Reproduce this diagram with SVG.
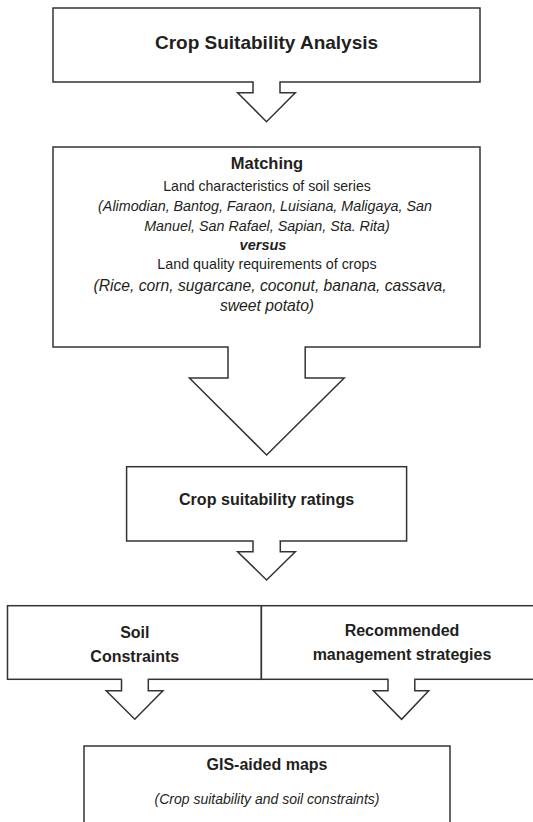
<svg xmlns="http://www.w3.org/2000/svg" width="533" height="822" viewBox="0 0 533 822">
<style>
.box{fill:#fff;stroke:#333;stroke-width:1.5}
.arr{fill:#fff;stroke:#333;stroke-width:1.5;stroke-linejoin:miter}
.gap{fill:#fff;stroke:none}
text{font-family:"Liberation Sans",Arial,sans-serif;fill:#231f20;text-anchor:middle}
.b{font-weight:bold}
.i{font-style:italic}
</style>
<rect width="533" height="822" fill="#fff"/>
<g id="node-analysis">
<rect class="box" x="53" y="8" width="427" height="74"/>
<text class="b" x="266.5" y="49" font-size="19">Crop Suitability Analysis</text>
</g>
<g id="node-matching">
<rect class="box" x="53" y="147" width="427" height="200"/>
<text class="b" x="267" y="169" font-size="16.5">Matching</text>
<text x="267" y="191" font-size="14.1">Land characteristics of soil series</text>
<text class="i" x="265" y="211" font-size="14.3">(Alimodian, Bantog, Faraon, Luisiana, Maligaya, San</text>
<text class="i" x="267" y="231" font-size="14.3">Manuel, San Rafael, Sapian, Sta. Rita)</text>
<text class="b i" x="263" y="250" font-size="14.5">versus</text>
<text x="267" y="269" font-size="14.3">Land quality requirements of crops</text>
<text class="i" x="270" y="290.5" font-size="15.7">(Rice, corn, sugarcane, coconut, banana, cassava,</text>
<text class="i" x="267" y="311" font-size="15.7">sweet potato)</text>
</g>
<g id="node-ratings">
<rect class="box" x="126.6" y="466.7" width="280" height="74.3"/>
<text class="b" x="266.6" y="505" font-size="16.1">Crop suitability ratings</text>
</g>
<g id="node-constraints">
<rect class="box" x="7.5" y="605.7" width="253.9" height="73.6"/>
<text class="b" x="134.8" y="638" font-size="16">Soil</text>
<text class="b" x="134.8" y="662" font-size="16">Constraints</text>
</g>
<g id="node-strategies">
<rect class="box" x="261.4" y="605.7" width="290" height="73.6"/>
<text class="b" x="402" y="636" font-size="16">Recommended</text>
<text class="b" x="402" y="660" font-size="16">management strategies</text>
</g>
<g id="node-maps">
<rect class="box" x="84" y="746" width="366" height="90"/>
<text class="b" x="267" y="770" font-size="16">GIS-aided maps</text>
<text class="i" x="267" y="804" font-size="14">(Crop suitability and soil constraints)</text>
</g>
<g id="connectors">
<rect class="gap" x="253.7" y="80.5" width="25.6" height="3"/>
<path class="arr" d="M253 82 V92.7 H237.6 L266.5 121.7 L295.3 92.7 H280 V82"/>
<rect class="gap" x="228.7" y="345.5" width="75.8" height="3"/>
<path class="arr" d="M228 347 V378 H189.4 L266.6 455 L344.2 378 H305.2 V347"/>
<rect class="gap" x="253.7" y="539.5" width="25.6" height="3"/>
<path class="arr" d="M253 541 V551.7 H237.6 L266.6 580 L295.3 551.7 H280.3 V541"/>
<rect class="gap" x="122.2" y="677.8" width="25.4" height="3"/>
<path class="arr" d="M121.5 679.3 V690.7 H106.2 L134.8 719.3 L162.9 690.7 H148.3 V679.3"/>
<rect class="gap" x="388.7" y="677.8" width="25.4" height="3"/>
<path class="arr" d="M388 679.3 V690.7 H373.4 L401.6 719.3 L428.7 690.7 H414.8 V679.3"/>
</g>
</svg>
